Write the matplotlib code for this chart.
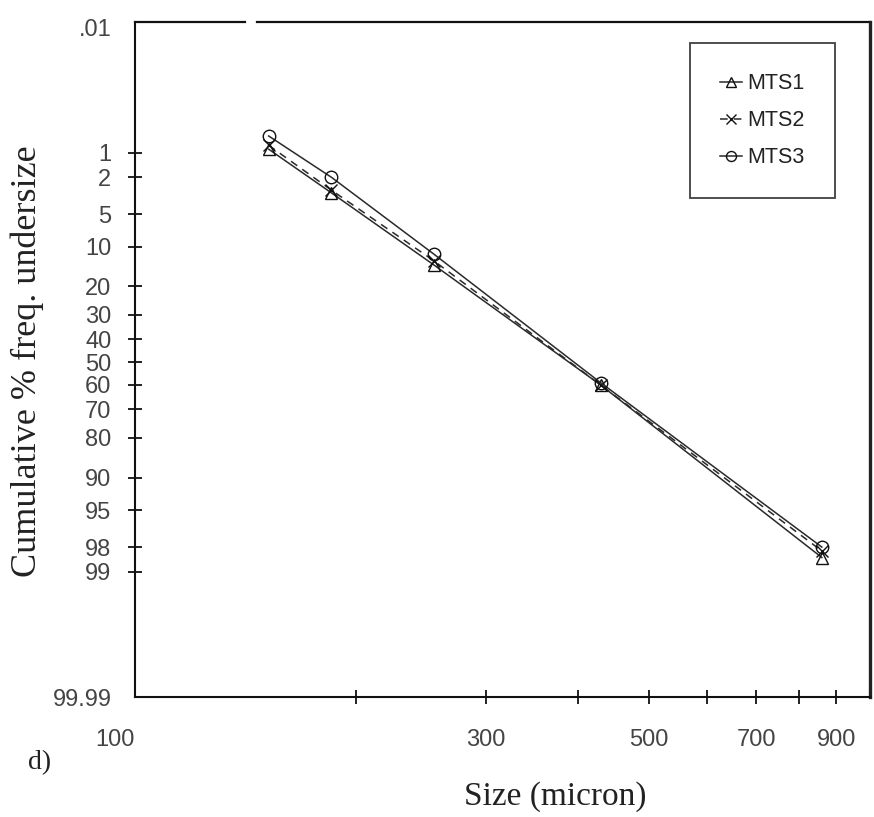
import math
from statistics import NormalDist
import numpy as np
import matplotlib
matplotlib.use("Agg")
import matplotlib.pyplot as plt
from matplotlib.lines import Line2D

# ---- data ----
size_micron = [152, 185, 255, 430, 860]
mts1 = [0.9, 3.0, 14.0, 60.0, 98.5]
mts2 = [0.8, 2.8, 13.0, 60.0, 98.2]
mts3 = [0.6, 2.0, 11.5, 59.0, 98.0]
series_names = ["MTS1", "MTS2", "MTS3"]

y_ticks = [0.01, 1, 2, 5, 10, 20, 30, 40, 50, 60, 70, 80, 90, 95, 98, 99, 99.99]
y_tick_labels = [".01", "1", "2", "5", "10", "20", "30", "40", "50", "60",
                 "70", "80", "90", "95", "98", "99", "99.99"]
x_ticks = [100, 200, 300, 400, 500, 600, 700, 800, 900]
x_tick_labels = ["100", "", "300", "", "500", "", "700", "", "900"]

# ---- probability (probit) scale ----
_nd = NormalDist()
_inv_cdf = np.vectorize(_nd.inv_cdf, otypes=[float])
_cdf = np.vectorize(lambda v: 50.0 * (1.0 + math.erf(v / math.sqrt(2.0))), otypes=[float])


def _fwd(p):
    p = np.asarray(p, dtype=float)
    q = np.clip(p / 100.0, 1e-9, 1 - 1e-9)
    return _inv_cdf(q)


def _inv(z):
    z = np.asarray(z, dtype=float)
    return _cdf(z)


W, H = 874, 817
fig = plt.figure(figsize=(W / 100, H / 100), dpi=100)
ax = fig.add_axes([135 / W, 1 - 697 / H, 735 / W, 675 / H])

ax.set_xscale("log")
ax.set_yscale("function", functions=(_fwd, _inv))
ax.set_xlim(100, 1000)
ax.set_ylim(99.9893, 0.0079)

line_col = "#2a2a2a"
styles = [
    dict(marker="^", linestyle="-"),
    dict(marker="x", linestyle=(0, (5, 4))),
    dict(marker="o", linestyle="-"),
]
for name, vals, st in zip(series_names, [mts1, mts2, mts3], styles):
    ax.plot(size_micron, vals, color=line_col, lw=1.1, marker=st["marker"],
            linestyle=st["linestyle"], markersize=9, markerfacecolor="none",
            markeredgecolor="#111111", markeredgewidth=1.0, label=name)

# ticks
tick_font = dict(family="Liberation Sans", size=17)
ax.set_yticks(y_ticks)
ax.set_yticklabels(y_tick_labels, fontdict=tick_font, color="#444444")
ax.set_xticks(x_ticks)
ax.set_xticklabels(x_tick_labels, fontdict=tick_font, color="#444444")
ax.xaxis.set_minor_locator(matplotlib.ticker.NullLocator())
ax.yaxis.set_minor_locator(matplotlib.ticker.NullLocator())
ax.tick_params(axis="both", direction="inout", length=10, width=1.3, color="#111111")
ax.tick_params(axis="y", pad=12)
ax.tick_params(axis="x", pad=18)

yt = ax.yaxis.get_major_ticks()
for t in (yt[0], yt[-1]):
    t.tick1line.set_visible(False)
xt = ax.xaxis.get_major_ticks()
xt[0].tick1line.set_visible(False)
xt[0].label1.set_horizontalalignment("right")

# spines
for s in ("left", "bottom"):
    ax.spines[s].set_linewidth(1.5)
    ax.spines[s].set_color("#111111")
ax.spines["right"].set_linewidth(2.4)
ax.spines["right"].set_color("#222222")
ax.spines["top"].set_visible(False)
gap0 = (245 - 135) / 735
gap1 = (257 - 135) / 735
for a, b in ((0, gap0), (gap1, 1)):
    ax.add_line(Line2D([a, b], [1, 1], transform=ax.transAxes, color="#111111",
                       lw=1.6, clip_on=False))

# legend
leg = ax.legend(loc="upper right", bbox_to_anchor=(0.952, 0.969),
                prop=dict(family="Liberation Sans", size=15.5),
                frameon=True, fancybox=False, borderpad=1.4, labelspacing=0.75,
                handlelength=1.0, handletextpad=0.25, borderaxespad=0,
                markerscale=0.8)
fr = leg.get_frame()
fr.set_edgecolor("#111111")
fr.set_linewidth(1.3)
for txt in leg.get_texts():
    txt.set_color("#222222")

# labels
fig.text(27 / W, 1 - 361 / H, "Cumulative % freq. undersize", rotation=90,
         ha="center", va="center", family="Liberation Serif", size=26,
         color="#222222")
fig.text(555 / W, 1 - 797 / H, "Size (micron)", ha="center", va="center",
         family="Liberation Serif", size=24, color="#222222")
fig.text(40 / W, 1 - 763 / H, "d)", ha="center", va="center",
         family="Liberation Serif", size=20, color="#222222")

fig.savefig("out.png", dpi=100)
